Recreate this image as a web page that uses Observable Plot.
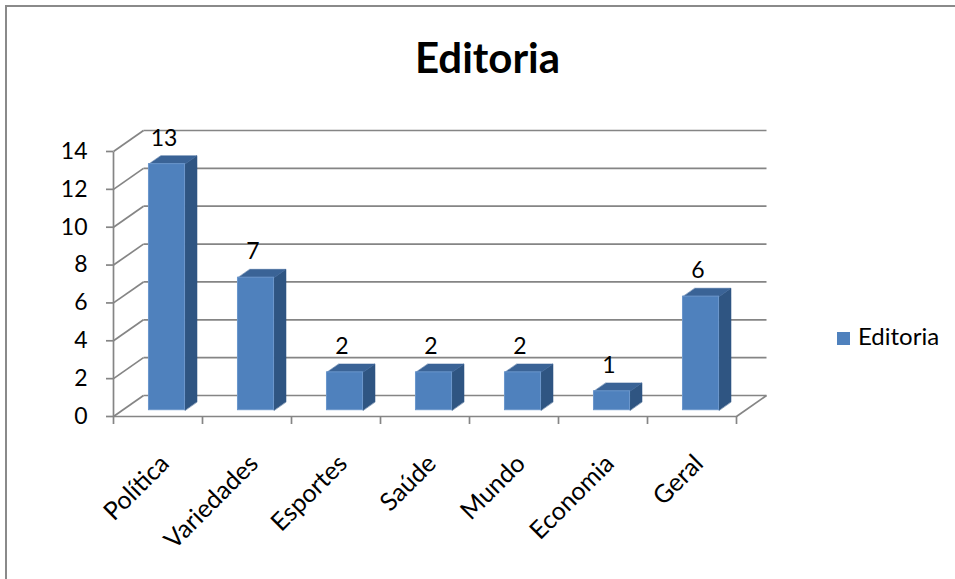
<!DOCTYPE html>
<html>
<head>
<meta charset="utf-8">
<script src="https://cdn.jsdelivr.net/npm/d3@7"></script>
<script src="https://cdn.jsdelivr.net/npm/@observablehq/plot@0.6"></script>
<style>
  html, body { margin: 0; padding: 0; background: #fff; }
  #wrap { position: relative; width: 955px; height: 579px; overflow: hidden; font-family: Lato, "Open Sans", sans-serif; }
  #frame { position: absolute; left: 5px; top: 5px; width: 1000px; height: 1000px; border-left: 2px solid #8a8a8a; border-top: 2px solid #8a8a8a; }
  #title { position: absolute; left: 0; width: 975px; top: 36px; text-align: center; font: bold 42px/42px Lato, sans-serif; color: #000; }
  #legend { position: absolute; left: 837px; top: 324px; font: 24px/24px Lato, sans-serif; color: #000; display: flex; align-items: center; white-space: nowrap; }
  #legend .sw { width: 13px; height: 13px; background: #4F81BD; margin-right: 8px; margin-top: 4px; }
  #chart { position: absolute; left: 0; top: 0; }
</style>
</head>
<body>
<div id="wrap">
  <div id="frame"></div>
  <div id="chart"></div>
  <div id="title"></div>
  <div id="legend"><span class="sw"></span><span id="legtext"></span></div>
</div>
<script>
// ---- data ----
const categories = ["Política", "Variedades", "Esportes", "Saúde", "Mundo", "Economia", "Geral"];
const values = [13, 7, 2, 2, 2, 1, 6];
const yTicks = [0, 2, 4, 6, 8, 10, 12, 14];
const seriesName = "Editoria";
const chartTitle = "Editoria";

// ---- 3D geometry (in data units) ----
const DX = 0.337;   // back-wall x offset
const DY = 1.109;   // back-wall y offset
const HW = 0.2025;  // half bar width
const D0 = 0.3, D1 = 0.7; // bar depth range
const n = categories.length;
const yMax = 14;

const bars = categories.map((c, i) => ({c, i, v: values[i]}));

const sidePolys = [], topPolys = [];
bars.forEach(b => {
  const x1f = b.i + 0.5 - HW + D0 * DX, x2f = b.i + 0.5 + HW + D0 * DX;
  const ox = (D1 - D0) * DX, oy = (D1 - D0) * DY;
  const yb = D0 * DY, yt = b.v + D0 * DY;
  [[x2f, yb], [x2f, yt], [x2f + ox, yt + oy], [x2f + ox, yb + oy]].forEach(([x, y]) => sidePolys.push({k: b.c, x, y}));
  [[x1f, yt], [x2f, yt], [x2f + ox, yt + oy], [x1f + ox, yt + oy]].forEach(([x, y]) => topPolys.push({k: b.c, x, y}));
});

const gridLinks = [];
yTicks.forEach(t => {
  gridLinks.push({x1: 0, y1: t, x2: DX, y2: t + DY});
  gridLinks.push({x1: DX, y1: t + DY, x2: n + DX, y2: t + DY});
});
gridLinks.push({x1: 0, y1: 0, x2: n, y2: 0});
gridLinks.push({x1: n, y1: 0, x2: n + DX, y2: DY});
gridLinks.push({x1: 0, y1: 0, x2: 0, y2: yMax});

const gridColor = "#858585";

const plot = Plot.plot({
  width: 955,
  height: 579,
  marginLeft: 113,
  marginRight: 189,
  marginTop: 130,
  marginBottom: 163,
  style: {fontFamily: "Lato, sans-serif", color: "#000", background: "transparent"},
  x: {type: "linear", domain: [0, n + DX]},
  y: {type: "linear", domain: [0, yMax + DY]},
  marks: [
    Plot.link(gridLinks, {x1: "x1", y1: "y1", x2: "x2", y2: "y2", stroke: gridColor, strokeWidth: 1.7}),
    Plot.axisY({ticks: yTicks, tickSize: 7, tickPadding: 19, fontSize: 23, stroke: gridColor, strokeWidth: 1.7, tickFormat: d => d, label: null}),
    Plot.axisX({ticks: d3.range(0, n + 1), tickSize: 8, stroke: gridColor, strokeWidth: 1.7, tickFormat: () => "", label: null}),
    Plot.line(sidePolys, {x: "x", y: "y", z: "k", fill: "#2f5582", stroke: "#2f5582", strokeWidth: 0.5, curve: "linear-closed"}),
    Plot.line(topPolys, {x: "x", y: "y", z: "k", fill: "#3a6396", stroke: "#3a6396", strokeWidth: 0.5, curve: "linear-closed"}),
    Plot.rect(bars, {
      x1: d => d.i + 0.5 - HW + D0 * DX,
      x2: d => d.i + 0.5 + HW + D0 * DX,
      y1: D0 * DY,
      y2: d => d.v + D0 * DY,
      fill: "#4F81BD", stroke: "#6b96cb", strokeWidth: 1
    }),
    Plot.text(bars, {x: d => d.i + 0.5, y: "v", text: d => String(d.v), dx: 6, dy: -32, fontSize: 23, fill: "#000"}),
    Plot.text(bars, {x: d => d.i + 0.5, y: 0, text: "c", rotate: -45, textAnchor: "end", lineAnchor: "middle", dx: 7, dy: 43, fontSize: 25, fill: "#000"})
  ]
});
document.getElementById("chart").appendChild(plot);
document.getElementById("title").textContent = chartTitle;
document.getElementById("legtext").textContent = seriesName;
</script>
</body>
</html>
